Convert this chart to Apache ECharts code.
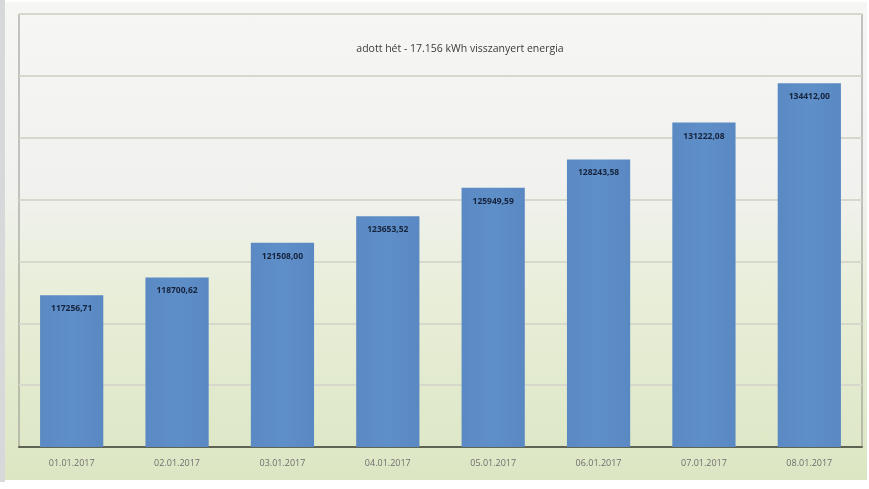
<!DOCTYPE html>
<html><head><meta charset="utf-8">
<script src="https://cdn.jsdelivr.net/npm/echarts@6/dist/echarts.min.js"></script>
<style>
html,body{margin:0;padding:0;background:#ffffff;}
#wrap{position:absolute;left:0;top:0;width:869px;height:489px;background:#ffffff;}
#strip{position:absolute;left:0;top:0;width:5px;height:482px;background:#d6d8da;}
#frame{position:absolute;left:5px;top:2px;width:862px;height:478px;
background:linear-gradient(to bottom,#f6f6f4 0%,#f1f2ef 38%,#e8eed8 62%,#dce6c3 100%);}
#chart{position:absolute;left:0;top:0;width:869px;height:489px;}
</style></head>
<body>
<div id="wrap"><div id="strip"></div><div id="frame"></div><div id="chart"></div></div>
<script>
const categories = ['01.01.2017','02.01.2017','03.01.2017','04.01.2017','05.01.2017','06.01.2017','07.01.2017','08.01.2017'];
const values = [117256.71, 118700.62, 121508.00, 123653.52, 125949.59, 128243.58, 131222.08, 134412.00];
const titleText = 'adott hét - 17.156 kWh visszanyert energia';

const chart = echarts.init(document.getElementById('chart'), null, {renderer:'canvas'});
chart.setOption({
  backgroundColor: 'transparent',
  animation: false,
  title: {
    text: titleText, left: 455, top: 39, textAlign: 'center',
    textStyle: {fontFamily: 'Open Sans', fontSize: 10.5, fontWeight: 'normal', color: '#3a3a3a'}
  },
  grid: {left: 19, right: 7, top: 14, bottom: 42, show: true, borderColor: '#8f918a', borderWidth: 1, backgroundColor: 'transparent'},
  xAxis: {
    type: 'category', data: categories,
    axisLine: {show: true, lineStyle: {color: '#5f6352', width: 2}},
    axisTick: {show: false},
    axisLabel: {fontFamily: 'Open Sans', fontSize: 9, color: '#6e6e6e', margin: 12}
  },
  yAxis: {
    type: 'value', min: 105000, max: 140000, interval: 5000,
    axisLabel: {show: false}, axisLine: {show: false}, axisTick: {show: false},
    splitLine: {show: true, lineStyle: {color: '#d6d8cc', width: 2}}
  },
  series: [{
    type: 'bar', data: values, barWidth: '60%',
    itemStyle: {color: new echarts.graphic.LinearGradient(0,0,1,0,[
      {offset:0,color:'#5a89c3'},{offset:0.5,color:'#5f8fc8'},{offset:1,color:'#5988c2'}])},
    label: {
      show: true, position: 'insideTop', distance: 9,
      formatter: p => p.value.toFixed(2).replace('.', ','),
      fontFamily: 'Open Sans', fontSize: 8.5, fontWeight: 'bold', color: '#15233c'
    }
  }]
});
</script>
</body></html>
